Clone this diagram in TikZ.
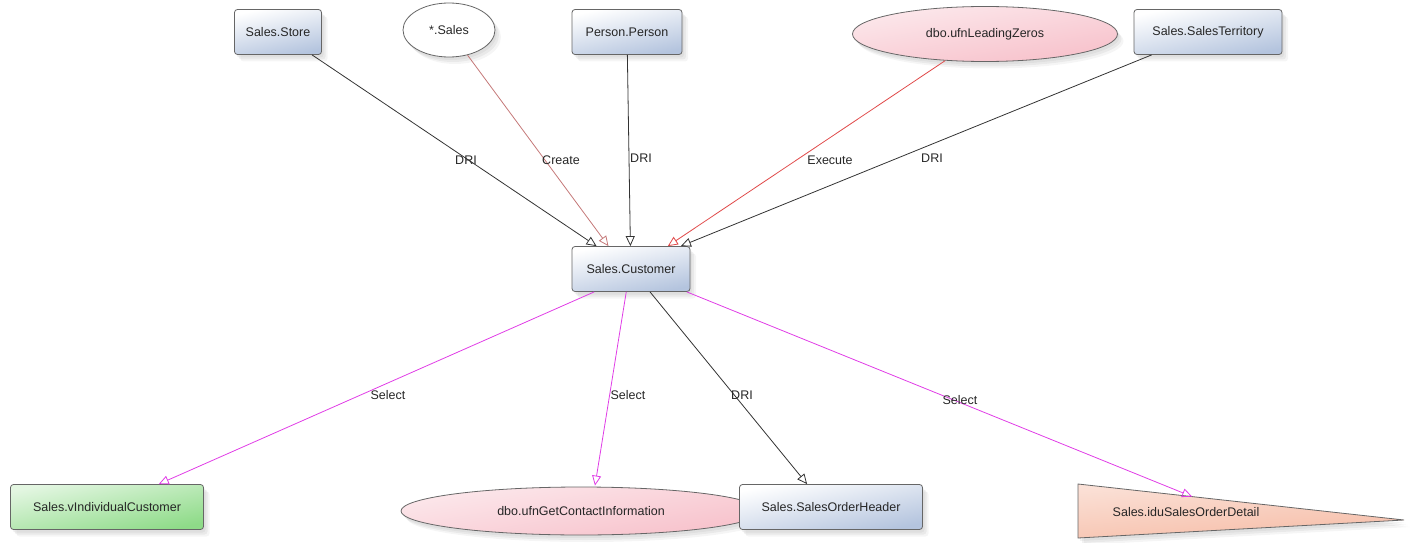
\documentclass[tikz,border=0pt]{standalone}
\usepackage{fontspec}
\setmainfont{Liberation Sans}
\usetikzlibrary{arrows.meta,shapes.geometric,shadows,calc}
\definecolor{boxblue}{HTML}{B4C4DE}
\definecolor{pinkfill}{HTML}{F7C0CA}
\definecolor{greenfill}{HTML}{8EDB88}
\definecolor{peach}{HTML}{F6BCA6}
\definecolor{execred}{HTML}{E04A4A}
\definecolor{createred}{HTML}{C47878}
\definecolor{selmag}{HTML}{E03CE6}
\begin{document}
\begin{tikzpicture}[x=1pt,y=-1pt,
  every node/.style={font=\fontsize{12.5}{14}\selectfont, text=black!85},
  base/.style={draw=black!60, line width=0.8pt, inner sep=0pt,
    drop shadow={opacity=0.10, shadow xshift=2pt, shadow yshift=-3pt},
    drop shadow={opacity=0.10, shadow xshift=4pt, shadow yshift=-5pt},
    drop shadow={opacity=0.08, shadow xshift=6pt, shadow yshift=-7pt}},
  tbl/.style={base, rectangle, rounded corners=3pt, top color=white, bottom color=boxblue, shading angle=12},
  viewbox/.style={base, rectangle, rounded corners=3pt, top color=greenfill!25, bottom color=greenfill, shading angle=12},
  fnell/.style={base, ellipse, top color=pinkfill!35, bottom color=pinkfill, shading angle=10},
  plainell/.style={base, ellipse, fill=white},
  trig/.style={base, top color=peach!45, bottom color=peach, shading angle=5},
  con/.style={line width=0.8pt, -{Triangle[open, length=10pt, width=9pt]}},
  dri/.style={con, draw=black!80},
  crt/.style={con, draw=createred},
  exe/.style={con, draw=execred},
  sel/.style={con, draw=selmag},
  lbl/.style={inner sep=1pt}]
\useasboundingbox (0,0) rectangle (1411,543);

% nodes
\node[tbl, minimum width=87pt, minimum height=45pt] (store) at (278,32) {Sales.Store};
\node[plainell, minimum width=92pt, minimum height=54pt] (allsales) at (449,30) {*.Sales};
\node[tbl, minimum width=110pt, minimum height=45pt] (person) at (627,32) {Person.Person};
\node[fnell, minimum width=265pt, minimum height=55pt] (lead) at (985,34) {dbo.ufnLeadingZeros};
\node[tbl, minimum width=148pt, minimum height=45pt] (terr) at (1208,32) {Sales.SalesTerritory};
\node[tbl, minimum width=118pt, minimum height=45pt] (cust) at (631,269) {Sales.Customer};
\node[viewbox, minimum width=193pt, minimum height=45pt] (vind) at (107,507) {Sales.vIndividualCustomer};
\node[fnell, minimum width=360pt, minimum height=48pt] (gci) at (581,511) {dbo.ufnGetContactInformation};
\node[tbl, minimum width=183pt, minimum height=45pt] (soh) at (831,507) {Sales.SalesOrderHeader};
\coordinate (dA) at (1078,484);
\coordinate (dB) at (1404,520);
\coordinate (dC) at (1078,538);
\path[trig] (dA) -- (dB) -- (dC) -- cycle;
\node (detail) at (1186,512) {Sales.iduSalesOrderDetail};

% incoming connectors
\draw[dri] (store) -- ($(cust.north west)!0.21!(cust.north east)$);
\draw[crt] (allsales) -- ($(cust.north west)!0.31!(cust.north east)$);
\draw[dri] (person) -- ($(cust.north west)!0.495!(cust.north east)$);
\draw[exe] (lead) -- ($(cust.north west)!0.81!(cust.north east)$);
\draw[dri] (terr) -- ($(cust.north west)!0.92!(cust.north east)$);

% outgoing connectors
\draw[sel] ($(cust.south west)!0.19!(cust.south east)$) -- (vind);
\draw[sel] ($(cust.south west)!0.46!(cust.south east)$) -- ($(gci.north)+(14,-1)$);
\draw[dri] ($(cust.south west)!0.66!(cust.south east)$) -- ($(soh.north west)!0.37!(soh.north east)$);
\draw[sel] ($(cust.south west)!0.97!(cust.south east)$) -- ($(dA)!0.35!(dB)$);

% labels
\node[lbl] (l1) at (466,160) {DRI};
\node[lbl] (l2) at (561,160) {Create};
\node[lbl] (l3) at (641,158) {DRI};
\node[lbl] (l4) at (830,160) {Execute};
\node[lbl] (l5) at (932,158) {DRI};
\node[lbl] (l6) at (388,395) {Select};
\node[lbl] (l7) at (628,395) {Select};
\node[lbl] (l8) at (742,395) {DRI};
\node[lbl] (l9) at (960,400) {Select};
\end{tikzpicture}
\end{document}
